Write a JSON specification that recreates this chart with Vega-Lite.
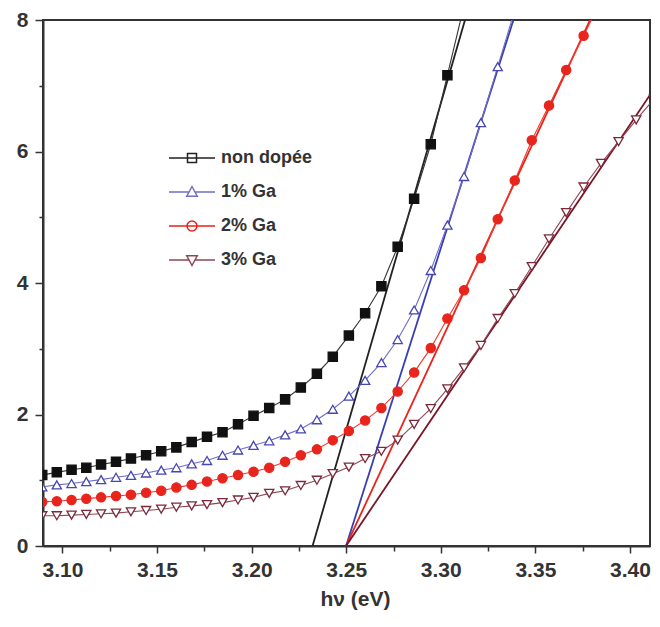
{
  "$schema": "https://vega.github.io/schema/vega-lite/v6.json",
  "width": 607,
  "height": 526,
  "autosize": "none",
  "padding": {"left": 43, "top": 20, "right": 10, "bottom": 81},
  "background": "white",
  "config": {
    "view": {"stroke": "#333333", "strokeWidth": 2},
    "axis": {
      "domainColor": "#333333", "domainWidth": 2, "tickColor": "#333333", "tickWidth": 1.5,
      "labelFont": "Liberation Sans", "labelFontWeight": "bold", "labelFontSize": 21, "labelColor": "#333333",
      "titleFont": "Liberation Sans", "titleFontWeight": "bold", "titleFontSize": 21, "titleColor": "#333333",
      "grid": false
    }
  },
  "datasets": {
    "curves": [
      {"series": "non dopée", "x": 3.0893, "y": 1.08},
      {"series": "non dopée", "x": 3.0970, "y": 1.12},
      {"series": "non dopée", "x": 3.1048, "y": 1.16},
      {"series": "non dopée", "x": 3.1126, "y": 1.19},
      {"series": "non dopée", "x": 3.1204, "y": 1.24},
      {"series": "non dopée", "x": 3.1283, "y": 1.28},
      {"series": "non dopée", "x": 3.1362, "y": 1.33},
      {"series": "non dopée", "x": 3.1442, "y": 1.38},
      {"series": "non dopée", "x": 3.1522, "y": 1.44},
      {"series": "non dopée", "x": 3.1602, "y": 1.50},
      {"series": "non dopée", "x": 3.1683, "y": 1.58},
      {"series": "non dopée", "x": 3.1764, "y": 1.66},
      {"series": "non dopée", "x": 3.1846, "y": 1.73},
      {"series": "non dopée", "x": 3.1928, "y": 1.85},
      {"series": "non dopée", "x": 3.2010, "y": 1.98},
      {"series": "non dopée", "x": 3.2093, "y": 2.10},
      {"series": "non dopée", "x": 3.2177, "y": 2.23},
      {"series": "non dopée", "x": 3.2260, "y": 2.41},
      {"series": "non dopée", "x": 3.2345, "y": 2.62},
      {"series": "non dopée", "x": 3.2429, "y": 2.88},
      {"series": "non dopée", "x": 3.2514, "y": 3.20},
      {"series": "non dopée", "x": 3.2600, "y": 3.54},
      {"series": "non dopée", "x": 3.2686, "y": 3.95},
      {"series": "non dopée", "x": 3.2772, "y": 4.55},
      {"series": "non dopée", "x": 3.2859, "y": 5.28},
      {"series": "non dopée", "x": 3.2947, "y": 6.11},
      {"series": "non dopée", "x": 3.3035, "y": 7.16},
      {"series": "non dopée", "x": 3.3123, "y": 8.22},
      {"series": "1% Ga", "x": 3.0893, "y": 0.90},
      {"series": "1% Ga", "x": 3.0970, "y": 0.93},
      {"series": "1% Ga", "x": 3.1048, "y": 0.95},
      {"series": "1% Ga", "x": 3.1126, "y": 0.98},
      {"series": "1% Ga", "x": 3.1204, "y": 1.01},
      {"series": "1% Ga", "x": 3.1283, "y": 1.045},
      {"series": "1% Ga", "x": 3.1362, "y": 1.075},
      {"series": "1% Ga", "x": 3.1442, "y": 1.11},
      {"series": "1% Ga", "x": 3.1522, "y": 1.155},
      {"series": "1% Ga", "x": 3.1602, "y": 1.19},
      {"series": "1% Ga", "x": 3.1683, "y": 1.25},
      {"series": "1% Ga", "x": 3.1764, "y": 1.30},
      {"series": "1% Ga", "x": 3.1846, "y": 1.38},
      {"series": "1% Ga", "x": 3.1928, "y": 1.46},
      {"series": "1% Ga", "x": 3.2010, "y": 1.53},
      {"series": "1% Ga", "x": 3.2093, "y": 1.60},
      {"series": "1% Ga", "x": 3.2177, "y": 1.69},
      {"series": "1% Ga", "x": 3.2260, "y": 1.78},
      {"series": "1% Ga", "x": 3.2345, "y": 1.92},
      {"series": "1% Ga", "x": 3.2429, "y": 2.08},
      {"series": "1% Ga", "x": 3.2514, "y": 2.28},
      {"series": "1% Ga", "x": 3.2600, "y": 2.52},
      {"series": "1% Ga", "x": 3.2686, "y": 2.79},
      {"series": "1% Ga", "x": 3.2772, "y": 3.14},
      {"series": "1% Ga", "x": 3.2859, "y": 3.59},
      {"series": "1% Ga", "x": 3.2947, "y": 4.19},
      {"series": "1% Ga", "x": 3.3035, "y": 4.88},
      {"series": "1% Ga", "x": 3.3123, "y": 5.62},
      {"series": "1% Ga", "x": 3.3212, "y": 6.44},
      {"series": "1% Ga", "x": 3.3301, "y": 7.29},
      {"series": "1% Ga", "x": 3.3391, "y": 8.15},
      {"series": "2% Ga", "x": 3.0893, "y": 0.67},
      {"series": "2% Ga", "x": 3.0970, "y": 0.68},
      {"series": "2% Ga", "x": 3.1048, "y": 0.70},
      {"series": "2% Ga", "x": 3.1126, "y": 0.72},
      {"series": "2% Ga", "x": 3.1204, "y": 0.74},
      {"series": "2% Ga", "x": 3.1283, "y": 0.76},
      {"series": "2% Ga", "x": 3.1362, "y": 0.78},
      {"series": "2% Ga", "x": 3.1442, "y": 0.81},
      {"series": "2% Ga", "x": 3.1522, "y": 0.84},
      {"series": "2% Ga", "x": 3.1602, "y": 0.89},
      {"series": "2% Ga", "x": 3.1683, "y": 0.93},
      {"series": "2% Ga", "x": 3.1764, "y": 0.98},
      {"series": "2% Ga", "x": 3.1846, "y": 1.03},
      {"series": "2% Ga", "x": 3.1928, "y": 1.08},
      {"series": "2% Ga", "x": 3.2010, "y": 1.13},
      {"series": "2% Ga", "x": 3.2093, "y": 1.19},
      {"series": "2% Ga", "x": 3.2177, "y": 1.28},
      {"series": "2% Ga", "x": 3.2260, "y": 1.38},
      {"series": "2% Ga", "x": 3.2345, "y": 1.47},
      {"series": "2% Ga", "x": 3.2429, "y": 1.61},
      {"series": "2% Ga", "x": 3.2514, "y": 1.75},
      {"series": "2% Ga", "x": 3.2600, "y": 1.91},
      {"series": "2% Ga", "x": 3.2686, "y": 2.10},
      {"series": "2% Ga", "x": 3.2772, "y": 2.35},
      {"series": "2% Ga", "x": 3.2859, "y": 2.64},
      {"series": "2% Ga", "x": 3.2947, "y": 3.01},
      {"series": "2% Ga", "x": 3.3035, "y": 3.46},
      {"series": "2% Ga", "x": 3.3123, "y": 3.89},
      {"series": "2% Ga", "x": 3.3212, "y": 4.38},
      {"series": "2% Ga", "x": 3.3301, "y": 4.97},
      {"series": "2% Ga", "x": 3.3391, "y": 5.56},
      {"series": "2% Ga", "x": 3.3481, "y": 6.17},
      {"series": "2% Ga", "x": 3.3572, "y": 6.70},
      {"series": "2% Ga", "x": 3.3663, "y": 7.24},
      {"series": "2% Ga", "x": 3.3755, "y": 7.76},
      {"series": "2% Ga", "x": 3.3847, "y": 8.30},
      {"series": "3% Ga", "x": 3.0893, "y": 0.46},
      {"series": "3% Ga", "x": 3.0970, "y": 0.46},
      {"series": "3% Ga", "x": 3.1048, "y": 0.47},
      {"series": "3% Ga", "x": 3.1126, "y": 0.48},
      {"series": "3% Ga", "x": 3.1204, "y": 0.49},
      {"series": "3% Ga", "x": 3.1283, "y": 0.50},
      {"series": "3% Ga", "x": 3.1362, "y": 0.52},
      {"series": "3% Ga", "x": 3.1442, "y": 0.54},
      {"series": "3% Ga", "x": 3.1522, "y": 0.56},
      {"series": "3% Ga", "x": 3.1602, "y": 0.59},
      {"series": "3% Ga", "x": 3.1683, "y": 0.61},
      {"series": "3% Ga", "x": 3.1764, "y": 0.63},
      {"series": "3% Ga", "x": 3.1846, "y": 0.66},
      {"series": "3% Ga", "x": 3.1928, "y": 0.70},
      {"series": "3% Ga", "x": 3.2010, "y": 0.74},
      {"series": "3% Ga", "x": 3.2093, "y": 0.80},
      {"series": "3% Ga", "x": 3.2177, "y": 0.84},
      {"series": "3% Ga", "x": 3.2260, "y": 0.92},
      {"series": "3% Ga", "x": 3.2345, "y": 1.00},
      {"series": "3% Ga", "x": 3.2429, "y": 1.10},
      {"series": "3% Ga", "x": 3.2514, "y": 1.20},
      {"series": "3% Ga", "x": 3.2600, "y": 1.33},
      {"series": "3% Ga", "x": 3.2686, "y": 1.44},
      {"series": "3% Ga", "x": 3.2772, "y": 1.61},
      {"series": "3% Ga", "x": 3.2859, "y": 1.85},
      {"series": "3% Ga", "x": 3.2947, "y": 2.09},
      {"series": "3% Ga", "x": 3.3035, "y": 2.39},
      {"series": "3% Ga", "x": 3.3123, "y": 2.71},
      {"series": "3% Ga", "x": 3.3212, "y": 3.05},
      {"series": "3% Ga", "x": 3.3301, "y": 3.46},
      {"series": "3% Ga", "x": 3.3391, "y": 3.84},
      {"series": "3% Ga", "x": 3.3481, "y": 4.25},
      {"series": "3% Ga", "x": 3.3572, "y": 4.67},
      {"series": "3% Ga", "x": 3.3663, "y": 5.07},
      {"series": "3% Ga", "x": 3.3755, "y": 5.46},
      {"series": "3% Ga", "x": 3.3847, "y": 5.82},
      {"series": "3% Ga", "x": 3.3940, "y": 6.15},
      {"series": "3% Ga", "x": 3.4033, "y": 6.48},
      {"series": "3% Ga", "x": 3.4127, "y": 6.80}
    ],
    "fits": [
      {"series": "non dopée", "x": 3.2322, "y": 0},
      {"series": "non dopée", "x": 3.3128, "y": 8},
      {"series": "1% Ga", "x": 3.2499, "y": 0},
      {"series": "1% Ga", "x": 3.3384, "y": 8},
      {"series": "2% Ga", "x": 3.2499, "y": 0},
      {"series": "2% Ga", "x": 3.3789, "y": 8},
      {"series": "3% Ga", "x": 3.2499, "y": 0},
      {"series": "3% Ga", "x": 3.4106, "y": 6.86}
    ]
  },
  "encoding": {
    "x": {
      "field": "x", "type": "quantitative",
      "scale": {"domain": [3.0897, 3.4106], "nice": false, "zero": false},
      "axis": {
        "title": "hν (eV)",
        "values": [3.1, 3.125, 3.15, 3.175, 3.2, 3.225, 3.25, 3.275, 3.3, 3.325, 3.35, 3.375, 3.4],
        "labelExpr": "round(datum.value*1000) % 50 == 0 ? format(datum.value, '.2f') : ''",
        "tickSize": {"condition": {"test": "round(datum.value*1000) % 50 != 0", "value": 5}, "value": 7},
        "labelPadding": 6,
        "titlePadding": 8,
        "titleX": 312
      }
    },
    "y": {
      "field": "y", "type": "quantitative",
      "scale": {"domain": [0, 8], "nice": false},
      "axis": {
        "title": null,
        "values": [0, 1, 2, 3, 4, 5, 6, 7, 8],
        "labelExpr": "datum.value % 2 == 0 ? datum.label : ''",
        "tickSize": {"condition": {"test": "datum.value % 2 != 0", "value": 4}, "value": 8},
        "labelPadding": 7
      }
    }
  },
  "layer": [
    {
      "data": {"name": "fits"},
      "mark": {"type": "line", "clip": true, "strokeWidth": 1.8},
      "encoding": {
        "color": {
          "field": "series", "type": "nominal",
          "scale": {"domain": ["non dopée", "1% Ga", "2% Ga", "3% Ga"], "range": ["#222222", "#3a3fb0", "#e8241c", "#7a1425"]},
          "legend": null
        }
      }
    },
    {
      "data": {"name": "curves"},
      "mark": {"type": "line", "clip": true, "strokeWidth": 1.1},
      "encoding": {
        "color": {
          "field": "series", "type": "nominal",
          "scale": {"domain": ["non dopée", "1% Ga", "2% Ga", "3% Ga"], "range": ["#333333", "#6e6ec4", "#ef3a2e", "#8e4656"]},
          "legend": null
        }
      }
    },
    {
      "data": {"name": "curves"},
      "mark": {"type": "point", "clip": true, "opacity": 1, "size": 85, "strokeWidth": 1.3},
      "encoding": {
        "shape": {
          "field": "series", "type": "nominal",
          "scale": {"domain": ["non dopée", "1% Ga", "2% Ga", "3% Ga"], "range": ["square", "triangle-up", "circle", "triangle-down"]},
          "legend": null
        },
        "fill": {
          "field": "series", "type": "nominal",
          "scale": {"domain": ["non dopée", "1% Ga", "2% Ga", "3% Ga"], "range": ["#111111", "#ffffff", "#e8241c", "#ffffff"]},
          "legend": null
        },
        "stroke": {
          "field": "series", "type": "nominal",
          "scale": {"domain": ["non dopée", "1% Ga", "2% Ga", "3% Ga"], "range": ["#111111", "#4646b4", "#e8241c", "#7a2a3a"]},
          "legend": null
        }
      }
    },
    {
      "data": {"name": "curves"},
      "mark": {"type": "point", "filled": true, "opacity": 0, "size": 100, "strokeWidth": 1.5},
      "encoding": {
        "shape": {
          "field": "series", "type": "nominal",
          "scale": {"domain": ["non dopée", "1% Ga", "2% Ga", "3% Ga"], "range": [
            "M-4.6,0H4.6M-0.9,-0.9H0.9V0.9H-0.9Z",
            "M-4.6,0H-0.6M0.6,0H4.6M0,-1.1L1.05,0.85H-1.05Z",
            "M-4.6,0H4.6M-1,0A1,1 0 1,0 1,0A1,1 0 1,0 -1,0Z",
            "M-4.6,0H-0.6M0.6,0H4.6M0,1.1L1.05,-0.85H-1.05Z"
          ]},
          "legend": {
            "orient": "none", "legendX": 123, "legendY": 129, "title": null,
            "symbolSize": 100, "symbolStrokeWidth": 1.5, "symbolOffset": 17,
            "labelOffset": 20, "rowPadding": 16, "labelColor": "#333333",
            "labelFont": "Liberation Sans", "labelFontSize": 18, "labelFontWeight": "bold",
            "encode": {
              "symbols": {
                "opacity": {"value": 1},
                "fill": {"value": {"expr": "datum.value == 'non dopée' ? '#111111' : (datum.value == '2% Ga' ? '#e8241c' : '#ffffff')"}},
                "fillOpacity": {"value": 1}
              },
              "labels": {
                "font": {"value": {"expr": "datum.label == 'non dopée' ? 'Liberation Serif' : 'Liberation Sans'"}},
                "fontSize": {"value": {"expr": "datum.label == 'non dopée' ? 24 : 18"}}
              }
            }
          }
        },
        "fill": {
          "field": "series", "type": "nominal",
          "scale": {"domain": ["non dopée", "1% Ga", "2% Ga", "3% Ga"], "range": ["#111111", "#ffffff", "#e8241c", "#ffffff"]}
        },
        "stroke": {
          "field": "series", "type": "nominal",
          "scale": {"domain": ["non dopée", "1% Ga", "2% Ga", "3% Ga"], "range": ["#222222", "#7070c0", "#e8241c", "#8e4656"]}
        }
      }
    }
  ],
  "resolve": {"scale": {"color": "independent", "shape": "independent", "fill": "independent", "stroke": "independent"}}
}
